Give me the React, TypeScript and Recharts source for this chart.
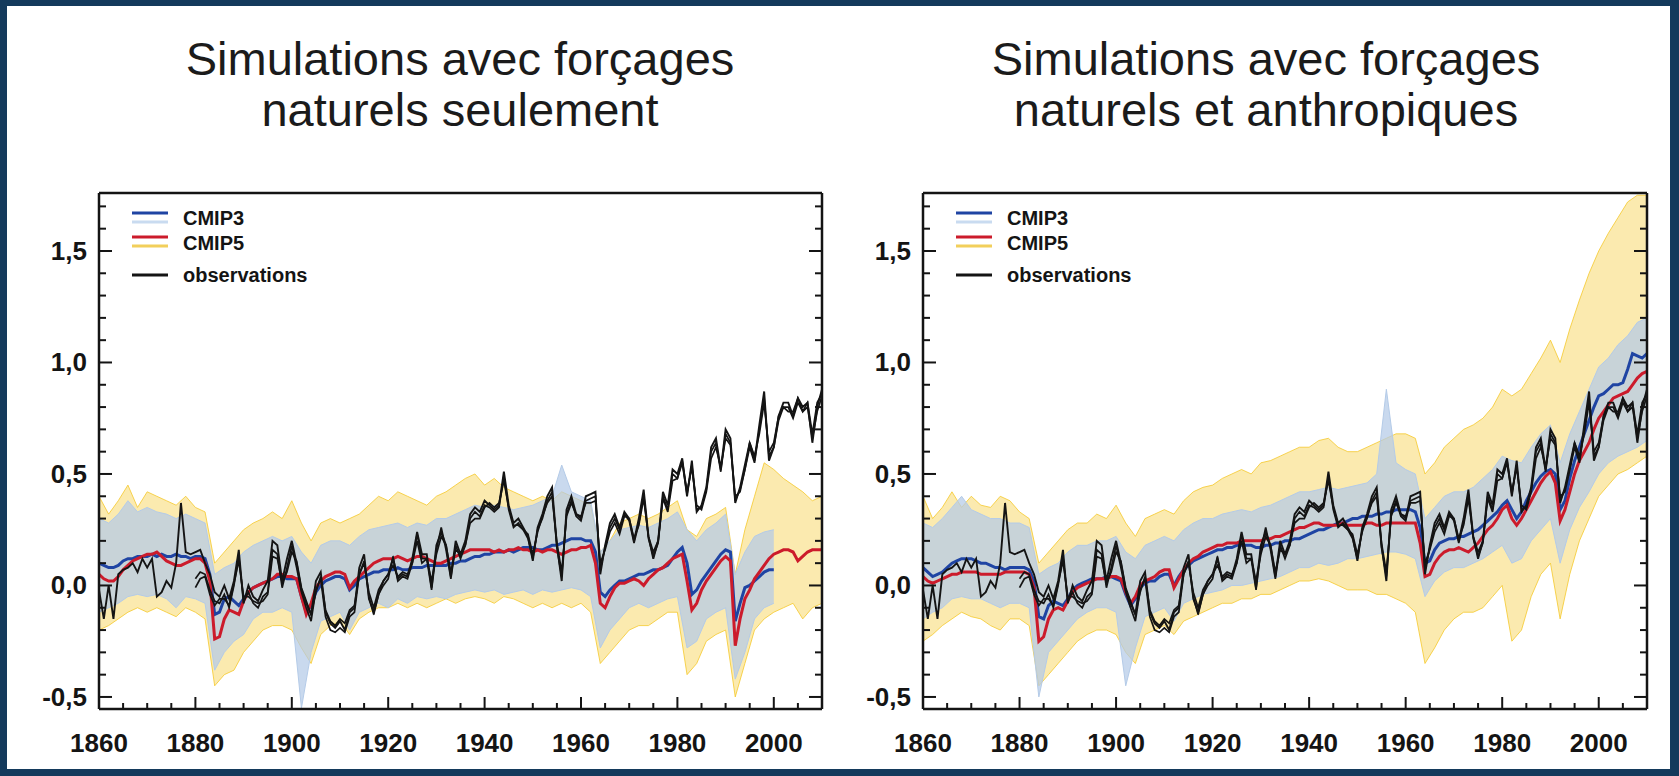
import React from 'react';
import { ComposedChart, Line, Area, XAxis, YAxis, Legend } from 'recharts';

// annual series start in 1860 (obs B/C start in 1880), envelopes are every 2 years
const obsHadcrut = [
  -0.02, -0.15, 0.0, -0.15, 0.05, 0.07, 0.08, 0.1, 0.06, 0.12,
  0.08, 0.12, -0.05, -0.03, 0.02, -0.01, 0.1, 0.37, 0.15, 0.14,
  0.15, 0.16, 0.1, 0.05, -0.03, -0.05, 0.0, -0.06, 0.02, 0.16,
  -0.08, 0.0, -0.05, -0.07, -0.02, 0.02, 0.2, 0.18, 0.02, 0.12,
  0.2, 0.1, -0.02, -0.08, -0.13, 0.02, 0.06, -0.12, -0.17, -0.19,
  -0.16, -0.2, -0.12, -0.1, 0.08, 0.14, -0.06, -0.12, -0.04, 0.02,
  0.05, 0.12, 0.03, 0.05, 0.04, 0.12, 0.24, 0.14, 0.14, -0.01,
  0.18, 0.24, 0.18, 0.04, 0.2, 0.14, 0.2, 0.32, 0.35, 0.33,
  0.38, 0.36, 0.34, 0.36, 0.51, 0.36, 0.28, 0.3, 0.26, 0.22,
  0.11, 0.26, 0.32, 0.4, 0.44, 0.18, 0.02, 0.34, 0.4, 0.32,
  0.3, 0.4, 0.41, 0.42, 0.05, 0.18, 0.28, 0.32, 0.26, 0.33,
  0.3, 0.2, 0.3, 0.43, 0.22, 0.12, 0.2, 0.42, 0.36, 0.52,
  0.5, 0.57, 0.4, 0.56, 0.33, 0.36, 0.44, 0.62, 0.66, 0.52,
  0.7, 0.66, 0.37, 0.44, 0.54, 0.64, 0.56, 0.72, 0.87, 0.56,
  0.62, 0.76, 0.82, 0.82, 0.76, 0.84, 0.8, 0.82, 0.64, 0.8,
  0.88,
];

const obsNoaa = [
  0.03, 0.06, 0.05, -0.02, -0.07, -0.08, -0.04, -0.1, 0.0, 0.13,
  -0.07, -0.03, -0.08, -0.1, -0.05, -0.03, 0.16, 0.14, -0.01, 0.08,
  0.18, 0.08, -0.03, -0.1, -0.16, -0.02, 0.03, -0.14, -0.2, -0.21,
  -0.19, -0.21, -0.14, -0.12, 0.05, 0.11, -0.05, -0.13, -0.04, 0.0,
  0.03, 0.13, 0.02, 0.04, 0.03, 0.1, 0.23, 0.12, 0.12, -0.02,
  0.16, 0.26, 0.16, 0.03, 0.18, 0.12, 0.18, 0.3, 0.33, 0.31,
  0.36, 0.35, 0.33, 0.35, 0.49, 0.34, 0.26, 0.28, 0.25, 0.21,
  0.12, 0.25, 0.3, 0.38, 0.42, 0.17, 0.04, 0.32, 0.38, 0.31,
  0.29, 0.38, 0.39, 0.4, 0.07, 0.17, 0.26, 0.3, 0.25, 0.32,
  0.29, 0.19, 0.28, 0.41, 0.21, 0.13, 0.19, 0.4, 0.34, 0.5,
  0.48, 0.55, 0.41, 0.54, 0.34, 0.35, 0.43, 0.6, 0.64, 0.51,
  0.68, 0.64, 0.38, 0.43, 0.52, 0.62, 0.55, 0.7, 0.84, 0.58,
  0.62, 0.74, 0.8, 0.8, 0.75, 0.82, 0.78, 0.8, 0.66, 0.78,
  0.85,
];

const obsGiss = [
  -0.01, 0.03, 0.04, -0.04, -0.09, -0.06, -0.06, -0.09, 0.01, 0.11,
  -0.05, -0.05, -0.07, -0.08, -0.07, -0.04, 0.13, 0.12, 0.01, 0.06,
  0.15, 0.11, -0.01, -0.07, -0.13, -0.03, 0.04, -0.11, -0.16, -0.18,
  -0.15, -0.17, -0.11, -0.09, 0.05, 0.1, -0.03, -0.1, -0.02, 0.02,
  0.05, 0.09, 0.04, 0.06, 0.05, 0.1, 0.2, 0.1, 0.12, 0.02,
  0.14, 0.22, 0.18, 0.06, 0.16, 0.14, 0.18, 0.28, 0.3, 0.3,
  0.35, 0.37, 0.35, 0.37, 0.47, 0.35, 0.27, 0.27, 0.25, 0.23,
  0.14, 0.24, 0.31, 0.37, 0.4, 0.19, 0.06, 0.31, 0.37, 0.32,
  0.31, 0.37, 0.37, 0.38, 0.1, 0.16, 0.24, 0.28, 0.23, 0.31,
  0.3, 0.21, 0.27, 0.39, 0.22, 0.15, 0.2, 0.39, 0.33, 0.47,
  0.48, 0.56, 0.42, 0.53, 0.36, 0.34, 0.42, 0.57, 0.62, 0.53,
  0.66, 0.63, 0.4, 0.42, 0.52, 0.64, 0.58, 0.68, 0.82, 0.6,
  0.64, 0.76, 0.8, 0.78, 0.78, 0.84, 0.78, 0.82, 0.68, 0.82,
  0.86,
];

// natural forcings only
const cmip3NatMean = [
  0.1, 0.09, 0.08, 0.08, 0.09, 0.11, 0.12, 0.12, 0.13, 0.13,
  0.13, 0.14, 0.13, 0.14, 0.13, 0.13, 0.14, 0.13, 0.13, 0.12,
  0.13, 0.13, 0.12, 0.05, -0.13, -0.12, -0.06, -0.05, -0.07, -0.09,
  -0.06, -0.03, -0.01, 0.0, 0.01, 0.02, 0.03, 0.04, 0.04, 0.03,
  0.03, 0.03, -0.05, -0.12, -0.09, -0.03, 0.0, 0.02, 0.03, 0.04,
  0.04, 0.03, -0.02, 0.0, 0.03, 0.04, 0.05, 0.06, 0.06, 0.07,
  0.07, 0.07, 0.08, 0.07, 0.07, 0.08, 0.08, 0.08, 0.09, 0.09,
  0.09, 0.09, 0.09, 0.1, 0.1, 0.11, 0.11, 0.12, 0.13, 0.13,
  0.14, 0.14, 0.15, 0.15, 0.15, 0.16, 0.15, 0.16, 0.17, 0.17,
  0.17, 0.16, 0.16, 0.17, 0.18, 0.18, 0.19, 0.2, 0.21, 0.21,
  0.21, 0.2, 0.2, 0.15, -0.03, -0.05, -0.02, 0.0, 0.02, 0.02,
  0.03, 0.04, 0.05, 0.05, 0.06, 0.07, 0.07, 0.08, 0.09, 0.12,
  0.15, 0.17, 0.1, -0.04, -0.02, 0.02, 0.05, 0.08, 0.11, 0.14,
  0.16, 0.15, -0.16, -0.08, -0.01, 0.0, 0.02, 0.04, 0.06, 0.07,
  0.07,
];

const cmip5NatMean = [
  0.05, 0.03, 0.02, 0.02, 0.04, 0.07, 0.09, 0.11, 0.12, 0.13,
  0.14, 0.14, 0.15, 0.13, 0.11, 0.1, 0.09, 0.09, 0.1, 0.11,
  0.12, 0.12, 0.1, 0.02, -0.24, -0.23, -0.15, -0.11, -0.12, -0.13,
  -0.07, -0.03, -0.01, 0.0, 0.01, 0.02, 0.03, 0.05, 0.05, 0.04,
  0.04, 0.03, -0.05, -0.13, -0.08, -0.01, 0.02, 0.04, 0.05, 0.06,
  0.06, 0.05, -0.01, 0.02, 0.04, 0.06, 0.08, 0.1, 0.11, 0.12,
  0.12, 0.12, 0.13, 0.12, 0.11, 0.12, 0.13, 0.13, 0.12, 0.11,
  0.1, 0.1, 0.11, 0.12, 0.13, 0.14, 0.15, 0.16, 0.16, 0.16,
  0.16, 0.16, 0.15, 0.16, 0.15, 0.16, 0.16, 0.17, 0.16, 0.16,
  0.15, 0.16, 0.15, 0.16, 0.16, 0.15, 0.14, 0.15, 0.16, 0.16,
  0.17, 0.17, 0.18, 0.1, -0.08, -0.1, -0.05, -0.01, 0.01, 0.01,
  0.02, 0.03, 0.02, 0.0, 0.03, 0.05, 0.07, 0.08, 0.1, 0.12,
  0.13, 0.14, 0.02, -0.11, -0.08, -0.02, 0.02, 0.05, 0.08, 0.11,
  0.13, 0.11, -0.27, -0.15, -0.06, -0.02, 0.03, 0.06, 0.09, 0.12,
  0.14, 0.15, 0.16, 0.16, 0.15, 0.11, 0.13, 0.15, 0.16, 0.16,
  0.16,
];

const cmip5NatLow = [
  -0.2, -0.18, -0.15, -0.12, -0.1, -0.12, -0.1, -0.12, -0.14, -0.1,
  -0.12, -0.15, -0.45, -0.4, -0.38, -0.3, -0.25, -0.2, -0.18, -0.18,
  -0.2, -0.28, -0.35, -0.22, -0.18, -0.16, -0.22, -0.15, -0.12, -0.1,
  -0.1, -0.08, -0.1, -0.08, -0.1, -0.08, -0.06, -0.08, -0.06, -0.05,
  -0.06, -0.08, -0.05, -0.06, -0.08, -0.1, -0.08, -0.1, -0.08, -0.1,
  -0.08, -0.12, -0.35, -0.3, -0.25, -0.2, -0.18, -0.18, -0.15, -0.12,
  -0.12, -0.4, -0.35, -0.25, -0.22, -0.2, -0.5, -0.35, -0.2, -0.15,
  -0.12, -0.1, -0.08, -0.15, -0.1, -0.08,
];
const cmip5NatHigh = [
  0.4, 0.32, 0.38, 0.45, 0.35, 0.42, 0.4, 0.38, 0.36, 0.4,
  0.35, 0.33, 0.1, 0.15, 0.2, 0.25, 0.28, 0.3, 0.33, 0.3,
  0.38, 0.28, 0.2, 0.28, 0.3, 0.28, 0.3, 0.32, 0.36, 0.4,
  0.38, 0.42, 0.4, 0.38, 0.36, 0.4, 0.42, 0.45, 0.48, 0.5,
  0.45, 0.48, 0.44, 0.42, 0.4, 0.38, 0.4, 0.38, 0.42, 0.4,
  0.38, 0.36, 0.15, 0.2, 0.28, 0.3, 0.32, 0.3, 0.32, 0.35,
  0.38, 0.25, 0.22, 0.3, 0.32, 0.35, 0.05, 0.25, 0.4, 0.55,
  0.52, 0.48, 0.45, 0.42, 0.38, 0.4,
];
const cmip3NatLow = [
  -0.12, -0.1, -0.08, -0.05, -0.04, -0.05, -0.04, -0.06, -0.1, -0.05,
  -0.06, -0.08, -0.38, -0.3, -0.25, -0.22, -0.15, -0.12, -0.12, -0.1,
  -0.12, -0.55, -0.3, -0.16, -0.14, -0.12, -0.2, -0.12, -0.1, -0.08,
  -0.1, -0.06, -0.08, -0.05, -0.06, -0.05, -0.06, -0.04, -0.03, -0.02,
  -0.03, -0.02, -0.04, -0.03, -0.02, -0.04, -0.02, -0.03, -0.02, -0.01,
  -0.02, -0.05, -0.28, -0.2, -0.15, -0.1, -0.08, -0.1, -0.08, -0.06,
  -0.05, -0.28, -0.25, -0.15, -0.12, -0.1, -0.42, -0.3, -0.15, -0.1,
  -0.08,
];
const cmip3NatHigh = [
  0.3, 0.28, 0.32, 0.38, 0.33, 0.35, 0.33, 0.32, 0.3, 0.32,
  0.3, 0.28, 0.05, 0.08, 0.1, 0.15, 0.18, 0.2, 0.22, 0.2,
  0.22, 0.15, 0.1, 0.18, 0.2, 0.2, 0.18, 0.22, 0.25, 0.26,
  0.27, 0.28, 0.26, 0.28, 0.27, 0.3, 0.3, 0.32, 0.34, 0.36,
  0.35, 0.36, 0.35, 0.34, 0.35, 0.36, 0.38, 0.4, 0.54, 0.42,
  0.4, 0.38, 0.15, 0.2, 0.25, 0.26, 0.27, 0.26, 0.28, 0.3,
  0.33, 0.25, 0.2, 0.25, 0.28, 0.32, 0.05, 0.15, 0.22, 0.24,
  0.25,
];

// natural and anthropogenic forcings
const cmip3AllMean = [
  0.08, 0.06, 0.04, 0.05, 0.06, 0.08, 0.1, 0.11, 0.12, 0.12,
  0.12, 0.11, 0.1, 0.1, 0.09, 0.08, 0.08, 0.07, 0.08, 0.08,
  0.08, 0.08, 0.07, 0.02, -0.14, -0.15, -0.09, -0.07, -0.08, -0.09,
  -0.06, -0.02, 0.0, 0.01, 0.02, 0.03, 0.03, 0.03, 0.04, 0.04,
  0.03, 0.02, -0.04, -0.09, -0.06, -0.01, 0.01, 0.02, 0.02, 0.04,
  0.05, 0.05, 0.0, 0.04, 0.07, 0.09, 0.11, 0.12, 0.13, 0.14,
  0.15, 0.16, 0.16, 0.17, 0.17, 0.18, 0.18, 0.18, 0.18, 0.17,
  0.17, 0.18, 0.18, 0.19, 0.19, 0.2, 0.2, 0.21, 0.21, 0.22,
  0.23, 0.24, 0.25, 0.25, 0.26, 0.27, 0.28, 0.28, 0.29, 0.3,
  0.3, 0.31, 0.31, 0.31, 0.32, 0.32, 0.33, 0.33, 0.34, 0.34,
  0.34, 0.34, 0.33, 0.26, 0.1, 0.11, 0.16, 0.19, 0.2, 0.21,
  0.21, 0.22, 0.22, 0.23, 0.24, 0.25, 0.27, 0.29, 0.31, 0.33,
  0.36, 0.38, 0.34, 0.3, 0.33, 0.38, 0.42, 0.46, 0.49, 0.51,
  0.52, 0.5, 0.34, 0.38, 0.48, 0.56, 0.62, 0.68, 0.74, 0.8,
  0.85, 0.86, 0.88, 0.9, 0.9, 0.91, 0.97, 1.04, 1.03, 1.02,
  1.04,
];

const cmip5AllMean = [
  0.04, 0.02, 0.01, 0.02, 0.03, 0.04, 0.05, 0.05, 0.06, 0.06,
  0.06, 0.06, 0.05, 0.05, 0.05, 0.05, 0.05, 0.06, 0.06, 0.06,
  0.06, 0.06, 0.05, -0.01, -0.25, -0.23, -0.15, -0.11, -0.1, -0.11,
  -0.07, -0.03, -0.01, 0.0, 0.01, 0.02, 0.03, 0.03, 0.03, 0.04,
  0.04, 0.03, -0.03, -0.08, -0.05, 0.0, 0.02, 0.03, 0.04, 0.06,
  0.07, 0.07, -0.01, 0.03, 0.07, 0.1, 0.12, 0.13, 0.15, 0.16,
  0.17, 0.18, 0.18, 0.19, 0.19, 0.19, 0.2, 0.2, 0.2, 0.2,
  0.2, 0.21, 0.21, 0.22, 0.22, 0.23, 0.24, 0.25, 0.26, 0.26,
  0.27, 0.28, 0.28, 0.27, 0.27, 0.27, 0.27, 0.28, 0.27, 0.27,
  0.27, 0.27, 0.28, 0.28, 0.27, 0.27, 0.28, 0.28, 0.28, 0.28,
  0.28, 0.28, 0.28, 0.19, 0.04, 0.05, 0.1, 0.13, 0.15, 0.16,
  0.16, 0.17, 0.16, 0.15, 0.17, 0.19, 0.22, 0.25, 0.27, 0.3,
  0.34, 0.36, 0.3, 0.27, 0.3, 0.34, 0.38, 0.42, 0.46, 0.49,
  0.51, 0.46, 0.29, 0.34, 0.42, 0.5, 0.56, 0.6, 0.64, 0.7,
  0.75, 0.78, 0.81, 0.84, 0.85, 0.86, 0.87, 0.9, 0.93, 0.95,
  0.96,
];

const cmip5AllLow = [
  -0.25, -0.22, -0.18, -0.15, -0.12, -0.14, -0.15, -0.18, -0.2, -0.15,
  -0.15, -0.18, -0.45, -0.4, -0.35, -0.3, -0.25, -0.22, -0.2, -0.2,
  -0.22, -0.3, -0.35, -0.22, -0.2, -0.18, -0.22, -0.16, -0.14, -0.12,
  -0.1, -0.08, -0.08, -0.06, -0.06, -0.04, -0.04, -0.02, 0.0, 0.02,
  0.02, 0.03, 0.02, 0.0, -0.02, -0.02, -0.02, -0.04, -0.04, -0.06,
  -0.08, -0.12, -0.35, -0.28, -0.2, -0.15, -0.12, -0.12, -0.1, -0.05,
  0.0, -0.25, -0.2, -0.05, 0.05, 0.1, -0.15, 0.05, 0.2, 0.3,
  0.4, 0.45, 0.5, 0.52, 0.55, 0.58,
];
const cmip5AllHigh = [
  0.4, 0.3, 0.35, 0.42, 0.35, 0.4, 0.36, 0.35, 0.4, 0.38,
  0.33, 0.3, 0.1, 0.15, 0.2, 0.25, 0.28, 0.28, 0.32, 0.3,
  0.36, 0.28, 0.22, 0.3, 0.32, 0.34, 0.32, 0.38, 0.42, 0.44,
  0.45, 0.48, 0.5, 0.52, 0.5, 0.55, 0.56, 0.58, 0.6, 0.62,
  0.62, 0.65, 0.66, 0.62, 0.6, 0.6, 0.62, 0.64, 0.66, 0.68,
  0.68, 0.66, 0.5, 0.55, 0.62, 0.66, 0.7, 0.72, 0.75, 0.8,
  0.88, 0.85, 0.88, 0.95, 1.02, 1.1, 1.0, 1.15, 1.28, 1.4,
  1.5, 1.58, 1.65, 1.72, 1.75, 1.75,
];
const cmip3AllLow = [
  -0.15, -0.12, -0.1, -0.06, -0.05, -0.06, -0.06, -0.08, -0.1, -0.08,
  -0.08, -0.1, -0.5, -0.3, -0.25, -0.2, -0.15, -0.12, -0.1, -0.1,
  -0.12, -0.45, -0.28, -0.14, -0.12, -0.1, -0.16, -0.08, -0.06, -0.04,
  -0.03, -0.02, 0.0, 0.0, 0.01, 0.02, 0.03, 0.04, 0.06, 0.08,
  0.08, 0.1, 0.09, 0.1, 0.12, 0.12, 0.13, 0.14, 0.15, 0.15,
  0.14, 0.12, -0.05, 0.02, 0.06, 0.08, 0.08, 0.1, 0.12, 0.15,
  0.18, 0.1, 0.12, 0.2, 0.25, 0.3, 0.1, 0.25, 0.35, 0.42,
  0.5, 0.55, 0.58, 0.6, 0.62, 0.65,
];
const cmip3AllHigh = [
  0.28, 0.26, 0.3, 0.35, 0.4, 0.34, 0.32, 0.3, 0.3, 0.28,
  0.28, 0.26, 0.05, 0.08, 0.1, 0.15, 0.18, 0.18, 0.2, 0.2,
  0.22, 0.15, 0.12, 0.18, 0.2, 0.22, 0.2, 0.25, 0.28, 0.3,
  0.3, 0.32, 0.33, 0.34, 0.33, 0.35, 0.36, 0.38, 0.4, 0.42,
  0.42, 0.43, 0.44, 0.43, 0.44, 0.45, 0.46, 0.5, 0.88, 0.55,
  0.52, 0.5, 0.3, 0.35, 0.4, 0.42, 0.42, 0.44, 0.48, 0.52,
  0.58, 0.56, 0.55, 0.62, 0.68, 0.72, 0.55, 0.68, 0.78, 0.88,
  0.98, 1.02, 1.08, 1.12, 1.18, 1.2,
];

const xTicks = [
  1860, 1865, 1870, 1875, 1880, 1885, 1890, 1895, 1900, 1905, 1910,
  1915, 1920, 1925, 1930, 1935, 1940, 1945, 1950, 1955, 1960, 1965,
  1970, 1975, 1980, 1985, 1990, 1995, 2000, 2005, 2010,
];
const xLabelYears = [1860, 1880, 1900, 1920, 1940, 1960, 1980, 2000];
const yTicks = [
  -0.5, -0.4, -0.3, -0.2, -0.1, 0, 0.1, 0.2, 0.3, 0.4, 0.5, 0.6, 0.7,
  0.8, 0.9, 1.0, 1.1, 1.2, 1.3, 1.4, 1.5, 1.6, 1.7,
];
const yLabelValues = [-0.5, 0, 0.5, 1.0, 1.5];

const NAVY = '#143a5c';
const INK = '#141414';
const BLUE = '#1f44a3';
const RED = '#cc1b2b';
const LIGHT_BLUE = '#b4cbe8';
const GOLD = '#f4c520';
const FONT = '"Liberation Sans", Arial, Helvetica, sans-serif';
const Y_DOMAIN = [-0.554, 1.76];

const series = (values: number[], start: number) =>
  values.map((v, i) => ({ year: start + i, v }));
const band = (lo: number[], hi: number[], start: number) =>
  lo.map((l, i) => ({ year: start + i * 2, band: [l, hi[i]] }));

const isYLabel = (v: number) => yLabelValues.some((l) => Math.abs(l - v) < 1e-6);
const fmtY = (v: number) => (v < 0 ? '-' : '') + Math.abs(v).toFixed(1).replace('.', ',');

const LeftTick = (props: any) => {
  const { x, y, payload } = props;
  const major = isYLabel(payload.value);
  return (
    <g>
      <line x1={x} x2={x + (major ? 13 : 7)} y1={y} y2={y} stroke={INK} strokeWidth={2} />
      {major && (
        <text x={x - 12} y={y} dy={9} textAnchor="end" fontSize={26} fontWeight="bold" fill={INK} fontFamily={FONT}>
          {fmtY(payload.value)}
        </text>
      )}
    </g>
  );
};

const RightTick = (props: any) => {
  const { x, y, payload } = props;
  const major = isYLabel(payload.value);
  return <line x1={x} x2={x - (major ? 13 : 7)} y1={y} y2={y} stroke={INK} strokeWidth={2} />;
};

const BottomTick = (props: any) => {
  const { x, y, payload } = props;
  const major = xLabelYears.includes(payload.value);
  return (
    <g>
      <line x1={x} x2={x} y1={y} y2={y - (major ? 12 : 6)} stroke={INK} strokeWidth={2} />
      {major && (
        <text x={x} y={y + 43} textAnchor="middle" fontSize={26} fontWeight="bold" fill={INK} fontFamily={FONT}>
          {payload.value}
        </text>
      )}
    </g>
  );
};

const TopTick = (props: any) => {
  const { x, y, payload } = props;
  const major = payload.value % 20 === 0;
  return <line x1={x} x2={x} y1={y} y2={y + (major ? 12 : 6)} stroke={INK} strokeWidth={2} />;
};

const LegendBox = () => (
  <svg width={220} height={90} style={{ display: 'block' }}>
    <line x1={0} x2={36} y1={8} y2={8} stroke={BLUE} strokeWidth={3} />
    <line x1={0} x2={36} y1={17} y2={17} stroke="#c9dbf0" strokeWidth={3} />
    <text x={51} y={20} fontSize={20} fontWeight="bold" fill={INK} fontFamily={FONT}>CMIP3</text>
    <line x1={0} x2={36} y1={32} y2={32} stroke={RED} strokeWidth={3} />
    <line x1={0} x2={36} y1={41} y2={41} stroke="#f2cf5b" strokeWidth={3} />
    <text x={51} y={45} fontSize={20} fontWeight="bold" fill={INK} fontFamily={FONT}>CMIP5</text>
    <line x1={0} x2={36} y1={70} y2={70} stroke={INK} strokeWidth={3} />
    <text x={51} y={77} fontSize={20} fontWeight="bold" fill={INK} fontFamily={FONT}>observations</text>
  </svg>
);

type PanelProps = {
  left: number;
  width: number;
  margin: { top: number; right: number; bottom: number; left: number };
  legendLeft: number;
  c3Mean: number[];
  c5Mean: number[];
  c3Low: number[];
  c3High: number[];
  c5Low: number[];
  c5High: number[];
};

const axisLine = { stroke: INK, strokeWidth: 2.5 };

function Panel(p: PanelProps) {
  return (
    <div style={{ position: 'absolute', left: p.left, top: 150 }}>
      <ComposedChart width={p.width} height={620} margin={p.margin}>
        <XAxis xAxisId="b" dataKey="year" type="number" domain={[1860, 2010]} allowDataOverflow
          ticks={xTicks} interval={0} tickSize={0} tickMargin={0} tickLine={false}
          axisLine={axisLine} tick={<BottomTick />} height={50} />
        <XAxis xAxisId="t" orientation="top" type="number" domain={[1860, 2010]} allowDataOverflow
          ticks={xTicks} interval={0} tickSize={0} tickMargin={0} tickLine={false}
          axisLine={axisLine} tick={<TopTick />} height={1} />
        <YAxis yAxisId="l" type="number" domain={Y_DOMAIN} allowDataOverflow
          ticks={yTicks} interval={0} tickSize={0} tickMargin={0} tickLine={false}
          axisLine={axisLine} tick={<LeftTick />} width={60} />
        <YAxis yAxisId="r" orientation="right" type="number" domain={Y_DOMAIN} allowDataOverflow
          ticks={yTicks} interval={0} tickSize={0} tickMargin={0} tickLine={false}
          axisLine={axisLine} tick={<RightTick />} width={1} />
        <Legend content={<LegendBox />} layout="vertical" align="center" verticalAlign="middle"
          wrapperStyle={{ left: p.legendLeft, top: 55, width: 220 }} />
        <Area xAxisId="b" yAxisId="l" data={band(p.c5Low, p.c5High, 1860)} dataKey="band" type="linear"
          fill={GOLD} fillOpacity={0.36} stroke={GOLD} strokeOpacity={0.75} strokeWidth={1}
          isAnimationActive={false} legendType="none" />
        <Area xAxisId="b" yAxisId="l" data={band(p.c3Low, p.c3High, 1860)} dataKey="band" type="linear"
          fill={LIGHT_BLUE} fillOpacity={0.72} stroke={LIGHT_BLUE} strokeWidth={1}
          isAnimationActive={false} legendType="none" />
        <Line xAxisId="b" yAxisId="l" data={series(p.c3Mean, 1860)} dataKey="v" type="linear" stroke={BLUE}
          strokeWidth={3} dot={false} isAnimationActive={false} name="CMIP3" />
        <Line xAxisId="b" yAxisId="l" data={series(p.c5Mean, 1860)} dataKey="v" type="linear" stroke={RED}
          strokeWidth={3} dot={false} isAnimationActive={false} name="CMIP5" />
        <Line xAxisId="b" yAxisId="l" data={series(obsGiss, 1880)} dataKey="v" type="linear" stroke={INK}
          strokeWidth={1.7} dot={false} isAnimationActive={false} name="observations" />
        <Line xAxisId="b" yAxisId="l" data={series(obsNoaa, 1880)} dataKey="v" type="linear" stroke={INK}
          strokeWidth={1.7} dot={false} isAnimationActive={false} legendType="none" />
        <Line xAxisId="b" yAxisId="l" data={series(obsHadcrut, 1860)} dataKey="v" type="linear" stroke={INK}
          strokeWidth={1.9} dot={false} isAnimationActive={false} legendType="none" />
      </ComposedChart>
    </div>
  );
}

const titleStyle: React.CSSProperties = {
  position: 'absolute',
  top: 33,
  width: 700,
  textAlign: 'center',
  fontFamily: FONT,
  fontSize: 47,
  lineHeight: '51px',
  color: '#1b1b1b',
};

export default function App() {
  return (
    <div style={{ position: 'absolute', left: 0, top: 0, width: 1679, height: 776, background: NAVY, overflow: 'hidden' }}>
      <div style={{ position: 'absolute', left: 7, top: 6, width: 1663, height: 763, background: '#fff' }} />
      <div style={{ ...titleStyle, left: 110 }}>
        Simulations avec forçages<br />naturels seulement
      </div>
      <div style={{ ...titleStyle, left: 916 }}>
        Simulations avec forçages<br />naturels et anthropiques
      </div>
      <Panel left={0} width={850} margin={{ top: 42, right: 27, bottom: 11, left: 39 }} legendLeft={132}
        c3Mean={cmip3NatMean} c5Mean={cmip5NatMean} c3Low={cmip3NatLow} c3High={cmip3NatHigh}
        c5Low={cmip5NatLow} c5High={cmip5NatHigh} />
      <Panel left={840} width={839} margin={{ top: 42, right: 31, bottom: 11, left: 23 }} legendLeft={116}
        c3Mean={cmip3AllMean} c5Mean={cmip5AllMean} c3Low={cmip3AllLow} c3High={cmip3AllHigh}
        c5Low={cmip5AllLow} c5High={cmip5AllHigh} />
    </div>
  );
}
